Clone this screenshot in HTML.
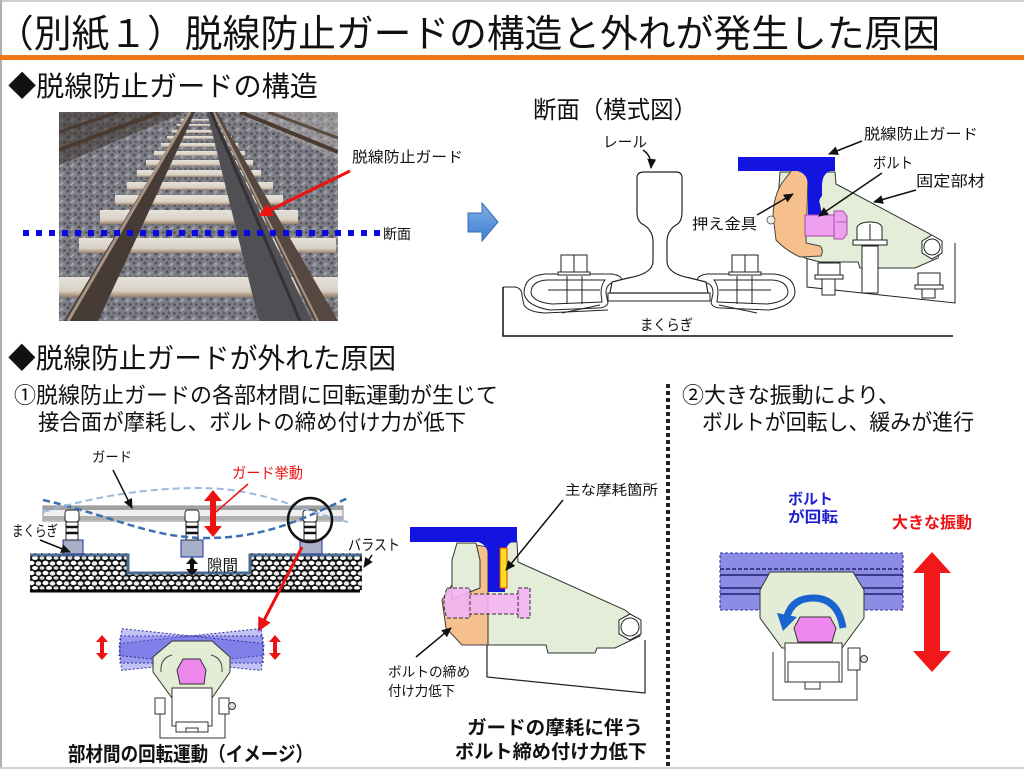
<!DOCTYPE html>
<html><head><meta charset="utf-8">
<style>
html,body{margin:0;padding:0;background:#fff;}
svg{display:block;}
text{font-family:"Liberation Sans","Noto Sans CJK JP",sans-serif;fill:#111;}
</style></head><body>
<svg width="1024" height="769" viewBox="0 0 1024 769" xmlns="http://www.w3.org/2000/svg">
<defs>
 <marker id="ab" markerWidth="12" markerHeight="12" refX="9" refY="5" orient="auto" markerUnits="userSpaceOnUse">
  <path d="M0,0.5 L10,5 L0,9.5 Z" fill="#111"/>
 </marker>
 <marker id="ar" markerWidth="16" markerHeight="16" refX="12" refY="7" orient="auto" markerUnits="userSpaceOnUse">
  <path d="M0,0 L14,7 L0,14 Z" fill="#ee1111"/>
 </marker>
 <pattern id="bal" width="14" height="10" patternUnits="userSpaceOnUse">
  <rect width="14" height="10" fill="#111"/>
  <ellipse cx="3.5" cy="3" rx="3" ry="2.2" fill="#fff"/>
  <ellipse cx="10.5" cy="3.5" rx="2.8" ry="2.2" fill="#eee"/>
  <ellipse cx="7" cy="8" rx="3" ry="2" fill="#fff"/>
  <ellipse cx="0" cy="8" rx="2.5" ry="1.8" fill="#ddd"/>
  <ellipse cx="14" cy="8" rx="2.5" ry="1.8" fill="#ddd"/>
 </pattern>
 <pattern id="grv" width="11" height="9" patternUnits="userSpaceOnUse">
  <rect width="11" height="9" fill="#7e7e86"/>
  <circle cx="2" cy="2" r="1.6" fill="#55555d"/>
  <circle cx="7" cy="3" r="1.4" fill="#a2a2aa"/>
  <circle cx="4" cy="7" r="1.5" fill="#60606a"/>
  <circle cx="9.5" cy="7.5" r="1.3" fill="#4c4c54"/>
  <circle cx="5.5" cy="4.5" r="0.9" fill="#b4b4bc"/>
 </pattern>
 <clipPath id="pc"><rect x="59" y="112" width="279" height="209"/></clipPath>
 <linearGradient id="barr" x1="0" y1="0" x2="0" y2="1">
  <stop offset="0" stop-color="#7fb0e8"/><stop offset="1" stop-color="#3f7fcf"/>
 </linearGradient>
 <linearGradient id="slp" x1="0" y1="0" x2="0" y2="1">
  <stop offset="0" stop-color="#e6e2da"/><stop offset="0.7" stop-color="#d8d0c4"/><stop offset="1" stop-color="#9a8068"/>
 </linearGradient>
</defs>

<!-- frame -->
<rect x="0" y="0" width="1024" height="2" fill="#cfcfcf"/>
<rect x="0" y="0" width="2" height="769" fill="#b0b0b0"/>
<rect x="0" y="767" width="1024" height="2" fill="#d0d0d0"/>

<!-- title -->
<text x="-4" y="47" font-size="38" textLength="944" lengthAdjust="spacingAndGlyphs">（別紙１）脱線防止ガードの構造と外れが発生した原因</text>
<rect x="0" y="55" width="1024" height="5" fill="#f07818"/>

<text x="8" y="96" font-size="28" textLength="310" lengthAdjust="spacingAndGlyphs">◆脱線防止ガードの構造</text>

<!-- photo -->
<g clip-path="url(#pc)">
 <rect x="59" y="112" width="279" height="209" fill="url(#grv)"/>
 <polygon points="59,112 185,112 59,165" fill="#3e3430" opacity="0.55"/>
 <polygon points="235,112 338,112 338,160" fill="#c0bcb6" opacity="0.4"/>
 <line x1="59" y1="150" x2="160" y2="112" stroke="#4a3a30" stroke-width="4"/>
 <line x1="59" y1="132" x2="118" y2="112" stroke="#4a3a30" stroke-width="3"/>
 <line x1="240" y1="112" x2="338" y2="152" stroke="#4a3a30" stroke-width="4"/>
 <line x1="268" y1="112" x2="338" y2="138" stroke="#5a4a40" stroke-width="3"/>
 <g fill="url(#slp)">
  <rect x="181" y="119" width="35" height="2"/>
  <rect x="177" y="124" width="44" height="2"/>
  <rect x="172" y="130" width="54" height="3"/>
  <rect x="167" y="136" width="65" height="3"/>
  <rect x="161" y="143" width="77" height="4"/>
  <rect x="154" y="151" width="91" height="5"/>
  <rect x="146" y="160" width="107" height="6"/>
  <rect x="137" y="170" width="124" height="7"/>
  <rect x="127" y="182" width="146" height="8"/>
  <rect x="115" y="195" width="168" height="10"/>
  <rect x="100" y="210" width="198" height="14"/>
  <rect x="79" y="238" width="257" height="15"/>
  <rect x="50" y="277" width="295" height="20"/>
 </g>
 <polygon points="64,321 98,321 195,112 189,112" fill="#463c35"/>
 <line x1="68" y1="321" x2="190" y2="112" stroke="#a89484" stroke-width="3"/>
 <polygon points="259,321 312,321 212,112 207,112" fill="#505054"/>
 <line x1="300" y1="321" x2="211" y2="112" stroke="#333336" stroke-width="3"/>
 <polygon points="314,321 338,321 217,112 213,112" fill="#564840"/>
 <line x1="318" y1="321" x2="214" y2="112" stroke="#a89484" stroke-width="2"/>
</g>
<line x1="23" y1="233" x2="380" y2="233" stroke="#0a0ae0" stroke-width="6" stroke-dasharray="6,7"/>
<text x="383" y="239" font-size="14" textLength="28" lengthAdjust="spacingAndGlyphs">断面</text>
<text x="352" y="162" font-size="15" textLength="111" lengthAdjust="spacingAndGlyphs">脱線防止ガード</text>
<line x1="350" y1="171" x2="260" y2="215" stroke="#ee1111" stroke-width="3" marker-end="url(#ar)"/>

<!-- block arrow -->
<polygon points="468,213 482,213 482,203 498,222 482,241 482,232 468,232" fill="url(#barr)" stroke="#3a6ab0" stroke-width="1"/>

<!-- section diagram -->
<text x="533" y="118" font-size="24" textLength="164" lengthAdjust="spacingAndGlyphs">断面（模式図）</text>
<text x="603" y="147" font-size="15" textLength="44" lengthAdjust="spacingAndGlyphs">レール</text>
<path d="M643,150 Q652,156 651,168" fill="none" stroke="#111" stroke-width="1.5" marker-end="url(#ab)"/>

<!-- sleeper outline -->
<path d="M503,287 L503,336 L953,336" fill="none" stroke="#111" stroke-width="1.5"/>
<path d="M503,287 L515,287 Q522,288 522,296 L524,305 Q528,312 545,313 L608,310" fill="none" stroke="#222" stroke-width="1"/>
<!-- base plate -->
<rect x="608" y="293" width="102" height="8" fill="#fff" stroke="#222" stroke-width="1"/>
<!-- guard base block -->
<path d="M807,255 L807,287 L955,303 L955,243" fill="#fff" stroke="#222" stroke-width="1"/>

<g id="clipL" fill="#fff" stroke="#222" stroke-width="1">
 <path d="M524,293 Q524,276 545,274 L612,274 Q624,276 621,282 L612,283 Q606,285 606,293 L608,303 Q606,308 598,308 L550,310 Q526,306 524,293 Z"/>
 <path d="M531,293 Q531,281 547,280 L605,280 Q601,285 601,293 L602,302 L552,304 Q533,302 531,293 Z"/>
 <line x1="567" y1="276" x2="567" y2="304"/>
 <line x1="582" y1="276" x2="582" y2="304"/>
 <line x1="548" y1="290" x2="600" y2="290"/>
 <path d="M562,313 L600,305" fill="none"/>
 <rect x="561" y="255" width="26" height="17"/>
 <line x1="574" y1="255" x2="574" y2="272"/>
 <rect x="558" y="272" width="32" height="3"/>
</g>
<use href="#clipL" transform="translate(1319,0) scale(-1,1)"/>

<!-- rail -->
<path d="M637,178 Q637,172 644,172 L676,172 Q682,172 682,178 L682,212 Q682,222 676,225 Q668,230 667,240 L667,262 Q668,274 690,278 L706,282 L708,293 L610,293 L612,282 L628,278 Q652,274 653,262 L653,240 Q652,230 644,225 Q637,222 637,212 Z" fill="#fff" stroke="#222" stroke-width="1.2"/>

<!-- green fixed member -->
<path d="M780,172 L835,172 L836,184 L930,234 L942,246 L938,258 L915,268 L860,268 L858,262 L820,262 L805,258 L792,250 L775,232 L778,200 Z" fill="#e3edd8" stroke="#333" stroke-width="1"/>
<!-- orange -->
<path d="M792,170 Q803,170 808,178 L806,243 L820,246 Q824,250 821,256 L800,257 Q785,250 776,240 L773,215 Q774,195 782,183 Z" fill="#f5c08c" stroke="#444" stroke-width="1"/>
<circle cx="771" cy="220" r="4" fill="#eee" stroke="#555" stroke-width="0.8"/>
<!-- blue guard -->
<path d="M738,157 L835,157 L835,171 L830,171 Q822,174 822,186 L822,196 Q818,200 820,204 L822,216 L808,216 L808,186 Q808,174 798,171 L738,171 Z" fill="#1414e0"/>
<!-- pink bolt -->
<rect x="805" y="215" width="31" height="21" fill="#f0a0f0" stroke="#a050a0" stroke-width="1"/>
<path d="M834,211 L843,211 L847,216 L847,234 L843,239 L834,239 Z" fill="#f0a0f0" stroke="#a050a0" stroke-width="1"/>
<line x1="836" y1="222" x2="847" y2="222" stroke="#a050a0" stroke-width="0.8"/>
<!-- hex nut -->
<polygon points="932,235 942,241 942,253 932,259 922,253 922,241" fill="#fff" stroke="#222"/>
<circle cx="932" cy="247" r="8" fill="#fff" stroke="#222"/>
<!-- vertical bolt -->
<g fill="#fff" stroke="#222" stroke-width="1">
 <rect x="862" y="246" width="16" height="47"/>
 <path d="M857,240 L857,227 Q860,222 870,222 Q880,222 882,227 L882,240 Z"/>
 <line x1="870" y1="224" x2="870" y2="240"/>
 <rect x="853" y="240" width="34" height="5"/>
 <rect x="822" y="278" width="13" height="17"/>
 <rect x="818" y="263" width="22" height="13"/>
 <rect x="815" y="275" width="28" height="4"/>
 <rect x="922" y="288" width="13" height="10"/>
 <rect x="918" y="273" width="22" height="13"/>
 <rect x="915" y="285" width="28" height="4"/>
</g>

<text x="864" y="139" font-size="15" textLength="114" lengthAdjust="spacingAndGlyphs">脱線防止ガード</text>
<line x1="862" y1="141" x2="829" y2="154" stroke="#111" stroke-width="1.5" marker-end="url(#ab)"/>
<text x="873" y="168" font-size="15" textLength="40" lengthAdjust="spacingAndGlyphs">ボルト</text>
<line x1="882" y1="173" x2="819" y2="216" stroke="#111" stroke-width="1.5" marker-end="url(#ab)"/>
<text x="916" y="186" font-size="15" textLength="69" lengthAdjust="spacingAndGlyphs">固定部材</text>
<line x1="916" y1="190" x2="874" y2="202" stroke="#111" stroke-width="1.5" marker-end="url(#ab)"/>
<text x="692" y="229" font-size="15" textLength="65" lengthAdjust="spacingAndGlyphs">押え金具</text>
<line x1="757" y1="215" x2="793" y2="194" stroke="#111" stroke-width="1.5" marker-end="url(#ab)"/>
<text x="640" y="330" font-size="15" textLength="53" lengthAdjust="spacingAndGlyphs">まくらぎ</text>

<!-- section 2 headings -->
<text x="8" y="368" font-size="28" textLength="388" lengthAdjust="spacingAndGlyphs">◆脱線防止ガードが外れた原因</text>
<text x="14" y="403" font-size="22" textLength="484" lengthAdjust="spacingAndGlyphs">①脱線防止ガードの各部材間に回転運動が生じて</text>
<text x="38" y="430" font-size="22" textLength="428" lengthAdjust="spacingAndGlyphs">接合面が摩耗し、ボルトの締め付け力が低下</text>
<text x="682" y="403" font-size="22" textLength="218" lengthAdjust="spacingAndGlyphs">②大きな振動により、</text>
<text x="702" y="430" font-size="22" textLength="272" lengthAdjust="spacingAndGlyphs">ボルトが回転し、緩みが進行</text>

<!-- separator -->
<line x1="668" y1="384" x2="668" y2="769" stroke="#222" stroke-width="4" stroke-dasharray="4,3"/>

<!-- bottom-left diagram -->
<polygon points="30,553 128,553 128,573 250,573 250,553 362,553 362,590 30,590" fill="url(#bal)"/>
<polyline points="30,555 128,555 128,573 250,573 250,555 362,555" fill="none" stroke="#4a6a90" stroke-width="3"/>
<line x1="30" y1="591" x2="360" y2="591" stroke="#000" stroke-width="3"/>

<rect x="63" y="540" width="20" height="14" fill="#a8b0c8" stroke="#2030a0" stroke-width="1"/>
<rect x="181" y="540" width="22" height="17" fill="#a8b0c8" stroke="#2030a0" stroke-width="1"/>
<rect x="300" y="540" width="22" height="14" fill="#a8b0c8" stroke="#2030a0" stroke-width="1"/>

<rect x="43" y="506" width="300" height="15" fill="#f0f0f0" stroke="#888" stroke-width="1"/>
<rect x="43" y="506" width="300" height="4" fill="#a0a0a0"/>
<rect x="43" y="516" width="300" height="4" fill="#b0b0b0"/>

<g fill="#fff" stroke="#222" stroke-width="1">
 <rect x="65" y="510" width="14" height="12" rx="3"/>
 <rect x="66" y="522" width="12" height="18"/>
 <rect x="185" y="510" width="14" height="12" rx="3"/>
 <rect x="186" y="522" width="12" height="18"/>
 <rect x="303" y="510" width="14" height="12" rx="3"/>
 <rect x="304" y="522" width="12" height="18"/>
</g>
<g stroke="#111" stroke-width="2.5">
 <line x1="66" y1="527" x2="78" y2="527"/><line x1="66" y1="533" x2="78" y2="533"/>
 <line x1="186" y1="527" x2="198" y2="527"/><line x1="186" y1="533" x2="198" y2="533"/>
 <line x1="304" y1="527" x2="316" y2="527"/><line x1="304" y1="533" x2="316" y2="533"/>
</g>

<path d="M43,500 C110,515 150,538 207,538 C270,538 310,515 348,498" fill="none" stroke="#3a70b0" stroke-width="2.5" stroke-dasharray="7,4"/>
<path d="M43,512 C100,495 150,488 200,488 C260,488 300,510 348,522" fill="none" stroke="#9ab8e0" stroke-width="2" stroke-dasharray="7,4"/>
<circle cx="310" cy="520" r="22" fill="none" stroke="#111" stroke-width="2.5"/>

<text x="92" y="462" font-size="14" textLength="40" lengthAdjust="spacingAndGlyphs">ガード</text>
<line x1="113" y1="470" x2="132" y2="508" stroke="#111" stroke-width="1.5" marker-end="url(#ab)"/>
<text x="232" y="478" font-size="15" textLength="71" lengthAdjust="spacingAndGlyphs" style="fill:#ee1111">ガード挙動</text>
<line x1="248" y1="484" x2="216" y2="512" stroke="#ee1111" stroke-width="1.5"/>
<polygon points="213,490 222,501 216,501 216,526 222,526 213,537 204,526 210,526 210,501 204,501" fill="#ee1111"/>
<text x="12" y="536" font-size="15" textLength="46" lengthAdjust="spacingAndGlyphs">まくらぎ</text>
<line x1="40" y1="540" x2="70" y2="552" stroke="#111" stroke-width="1.5" marker-end="url(#ab)"/>
<polygon points="192,557 198,564 194,564 194,569 198,569 192,576 186,569 190,569 190,564 186,564" fill="#111"/>
<text x="207" y="571" font-size="16" textLength="31" lengthAdjust="spacingAndGlyphs">隙間</text>
<text x="348" y="550" font-size="15" textLength="52" lengthAdjust="spacingAndGlyphs">バラスト</text>
<line x1="372" y1="555" x2="364" y2="567" stroke="#111" stroke-width="1.5" marker-end="url(#ab)"/>
<line x1="302" y1="547" x2="259" y2="630" stroke="#ee1111" stroke-width="3" marker-end="url(#ar)"/>

<!-- rotating bands -->
<g fill="#5050e0" fill-opacity="0.35" stroke="#3030a0" stroke-width="1" stroke-dasharray="2,2">
 <rect x="120" y="636" width="143" height="27" transform="rotate(-6 191 650)"/>
 <rect x="120" y="636" width="143" height="27"/>
 <rect x="120" y="636" width="143" height="27" transform="rotate(6 191 650)"/>
</g>
<polygon points="102,635 108,642 104,642 104,653 108,653 102,660 96,653 100,653 100,642 96,642" fill="#ee1111"/>
<polygon points="275,635 281,642 277,642 277,653 281,653 275,660 269,653 273,653 273,642 269,642" fill="#ee1111"/>

<g stroke="#333" stroke-width="1">
 <path d="M160,700 L160,738 L225,738 L225,700" fill="#fff"/>
 <rect x="155" y="698" width="10" height="16" fill="#fff"/>
 <rect x="219" y="698" width="10" height="16" fill="#fff"/>
 <circle cx="232" cy="706" r="3.5" fill="#ddd"/>
 <polygon points="172,641 212,641 230,657 230,672 212,698 172,698 153,672 153,657" fill="#e3edd6"/>
 <path d="M161,672 Q160,658 172,655 M222,672 Q223,658 211,655" fill="none" stroke="#444"/>
 <polygon points="183,659 200,659 206,670 204,684 180,684 177,670" fill="#ee88ee"/>
 <rect x="172" y="688" width="40" height="38" fill="#fff"/>
 <rect x="176" y="722" width="32" height="10" fill="#fff"/>
 <rect x="186" y="728" width="12" height="4" fill="#fff"/>
</g>
<text x="68" y="761" font-size="20" font-weight="bold" textLength="245" lengthAdjust="spacingAndGlyphs">部材間の回転運動（イメージ）</text>

<!-- middle diagram -->
<path d="M487,645 L487,677 L645,693 L645,640" fill="#fff" stroke="#222" stroke-width="1.2"/>
<path d="M476,545 L488,547 L488,645 L462,645 L446,628 L442,600 L450,588 Z" fill="#f5c08c" stroke="#444" stroke-width="1"/>
<path d="M488,542 L517,542 L518,562 L625,610 L640,622 L640,636 L615,648 L597,648 L595,653 L548,653 L546,645 L490,645 L488,645 Z" fill="#e3edd8" stroke="#333" stroke-width="1"/>
<path d="M457,543 L476,543 L480,560 L480,588 L465,594 L452,600 L452,560 Z" fill="#e3edd8" stroke="#333" stroke-width="1"/>
<path d="M410,527 L517,527 L517,542 L512,542 Q505,545 505,556 L505,592 L488,592 L488,556 Q488,545 478,542 L410,542 Z" fill="#1414e0"/>
<rect x="500" y="548" width="7" height="40" fill="#ffe020" stroke="#e04000" stroke-width="1"/>
<g fill="#f4b4f4" fill-opacity="0.9" stroke="#333" stroke-width="1" stroke-dasharray="4,2">
 <rect x="468" y="594" width="52" height="20"/>
 <path d="M447,588 L470,588 L470,618 L447,618 Q441,603 447,588 Z"/>
 <rect x="518" y="588" width="12" height="30"/>
</g>
<polygon points="630,614 641,620 641,634 630,640 619,634 619,620" fill="#fff" stroke="#222"/>
<circle cx="630" cy="627" r="9" fill="#fff" stroke="#222"/>
<text x="565" y="495" font-size="14" textLength="93" lengthAdjust="spacingAndGlyphs">主な摩耗箇所</text>
<line x1="563" y1="500" x2="506" y2="570" stroke="#111" stroke-width="1.5" marker-end="url(#ab)"/>
<text x="388" y="677" font-size="14" textLength="82" lengthAdjust="spacingAndGlyphs">ボルトの締め</text>
<text x="388" y="696" font-size="14" textLength="67" lengthAdjust="spacingAndGlyphs">付け力低下</text>
<line x1="416" y1="657" x2="451" y2="628" stroke="#111" stroke-width="1.5" marker-end="url(#ab)"/>
<text x="467" y="734" font-size="19" font-weight="bold" textLength="176" lengthAdjust="spacingAndGlyphs">ガードの摩耗に伴う</text>
<text x="455" y="758" font-size="19" font-weight="bold" textLength="192" lengthAdjust="spacingAndGlyphs">ボルト締め付け力低下</text>

<!-- right diagram -->
<text x="788" y="504" font-size="15" font-weight="bold" textLength="45" lengthAdjust="spacingAndGlyphs" style="fill:#2020d0">ボルト</text>
<text x="788" y="522" font-size="15" font-weight="bold" textLength="50" lengthAdjust="spacingAndGlyphs" style="fill:#2020d0">が回転</text>
<text x="892" y="528" font-size="16" font-weight="bold" textLength="80" lengthAdjust="spacingAndGlyphs" style="fill:#ee1111">大きな振動</text>

<rect x="720" y="553" width="183" height="57" fill="#8c8ce4" stroke="#3030a0" stroke-width="1" stroke-dasharray="3,2"/>
<g stroke="#202070" stroke-width="1.5">
 <line x1="720" y1="569" x2="903" y2="569" stroke-dasharray="4,2"/>
 <line x1="720" y1="575" x2="903" y2="575"/>
 <line x1="720" y1="588" x2="903" y2="588"/>
 <line x1="720" y1="594" x2="903" y2="594"/>
</g>
<g stroke="#333" stroke-width="1">
 <path d="M773,652 L773,700 L857,700 L857,652" fill="#fff"/>
 <rect x="848" y="648" width="12" height="22" fill="#fff"/>
 <circle cx="864" cy="659" r="3.5" fill="#ddd"/>
 <polygon points="770,572 853,572 864,590 864,618 842,648 782,648 760,618 760,590" fill="#e3edd6"/>
 <polygon points="800,617 830,617 836,628 832,642 798,642 794,628" fill="#ee88ee"/>
 <rect x="785" y="643" width="57" height="39" fill="#fff"/>
 <rect x="788" y="662" width="51" height="20" fill="#fff"/>
 <rect x="805" y="682" width="15" height="7" fill="#fff"/>
</g>
<path d="M843,628 Q838,598 813,598 Q793,598 787,616" fill="none" stroke="#1a64d0" stroke-width="7"/>
<polygon points="777,613 797,617 783,631" fill="#1a64d0"/>
<polygon points="932,552 951,573 940,573 940,651 951,651 932,672 913,651 924,651 924,573 913,573" fill="#f01818"/>
</svg>
</body></html>
